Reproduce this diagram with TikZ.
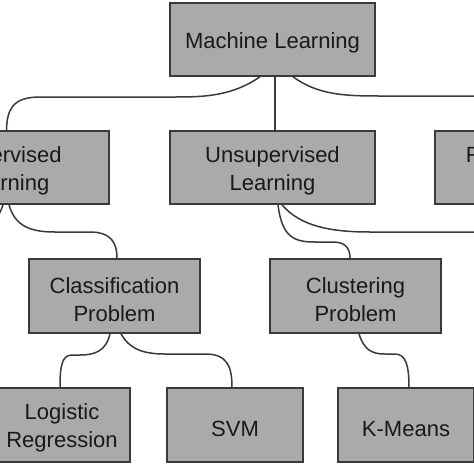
\documentclass[tikz,border=0pt]{standalone}
\usepackage{fontspec}
\setmainfont{Liberation Sans}
\usetikzlibrary{calc}
\definecolor{boxgray}{RGB}{170,170,170}
\definecolor{edgegray}{RGB}{58,58,58}
\definecolor{txt}{RGB}{25,25,25}
\newcommand{\topstrut}{\rule{0pt}{22.5pt}}
\tikzset{
  box/.style={draw=edgegray, fill=boxgray, line width=1.6pt, inner sep=0pt,
    align=center, text=txt, font=\fontsize{22}{28}\selectfont},
  bigbox/.style={box, minimum width=205pt, minimum height=73pt},
  midbox/.style={box, minimum width=171pt, minimum height=74pt},
  leafbox/.style={box, minimum width=136pt, minimum height=74pt},
  link/.style={draw=edgegray, line width=1.5pt}
}
\begin{document}
\begin{tikzpicture}[x=1pt,y=-1pt]
\useasboundingbox (0,0) rectangle (474,474);
\clip (0,0) rectangle (474,474);
\fill[white] (0,0) rectangle (474,474);
% nodes
\node[bigbox] (ml) at (272.5,39.5) {\topstrut Machine Learning};
\node[bigbox] (sup) at (6.5,167.5) {\topstrut Supervised\\Learning};
\node[bigbox] (unsup) at (272.5,167.5) {\topstrut Unsupervised\\Learning};
\node[bigbox] (rl) at (537.5,167.5) {\topstrut Reinforcement\\Learning};
\node[midbox] (cls) at (114.5,296) {\topstrut Classification\\Problem};
\node[midbox] (clu) at (355.5,296) {\topstrut Clustering\\Problem};
\node[leafbox] (log) at (62,425) {\topstrut Logistic\\Regression};
\node[leafbox] (svm) at (235,425) {\topstrut SVM};
\node[leafbox] (km) at (406,425) {\topstrut K-Means};
\coordinate (offL) at (-60,259);
\coordinate (offR) at (600,259);
% connectors
\draw[link] ($(ml.south)+(-12.5,0)$) .. controls (232,96) and (205,97) .. (175,97)
  -- (40,97) .. controls (12,97) and (7,110) .. (sup.north);
\draw[link] ($(ml.south)+(2.5,0)$) -- ($(unsup.north)+(2.5,0)$);
\draw[link] ($(ml.south)+(20.5,0)$) .. controls (318,95) and (345,96) .. (380,96)
  -- (500,96) .. controls (530,96) and (537.5,110) .. (rl.north);
\draw[link] ($(sup.south)+(-3.5,0)$) .. controls (0,215) and (-10,232) .. (-30,232)
  -- (-50,232) .. controls (-58,232) and (-60,245) .. (offL);
\draw[link] ($(sup.south)+(2.5,0)$) .. controls (15,226) and (30,232) .. (55,232)
  -- (90,232) .. controls (112,232) and (117,244) .. ($(cls.north)+(2.5,0)$);
\draw[link] ($(unsup.south)+(5.5,0)$) .. controls (282,238) and (295,242) .. (315,242)
  -- (333,242) .. controls (347,242) and (350,250) .. ($(clu.north)+(-5.5,0)$);
\draw[link] ($(unsup.south)+(9.5,0)$) .. controls (300,226) and (330,232) .. (370,232)
  -- (560,232) .. controls (590,232) and (600,245) .. (offR);
\draw[link] ($(cls.south)+(-4.5,0)$) .. controls (106,351) and (95,355) .. (80,355)
  -- (72,355) .. controls (62,355) and (60,366) .. ($(log.north)+(-2,0)$);
\draw[link] ($(cls.south)+(6.5,0)$) .. controls (130,350) and (145,354) .. (165,354)
  -- (205,354) .. controls (227,354) and (232,366) .. ($(svm.north)+(-3,0)$);
\draw[link] ($(clu.south)+(3.5,0)$) .. controls (364,350) and (372,354) .. (385,354)
  -- (395,354) .. controls (406,354) and (409,366) .. ($(km.north)+(3,0)$);
\end{tikzpicture}
\end{document}
